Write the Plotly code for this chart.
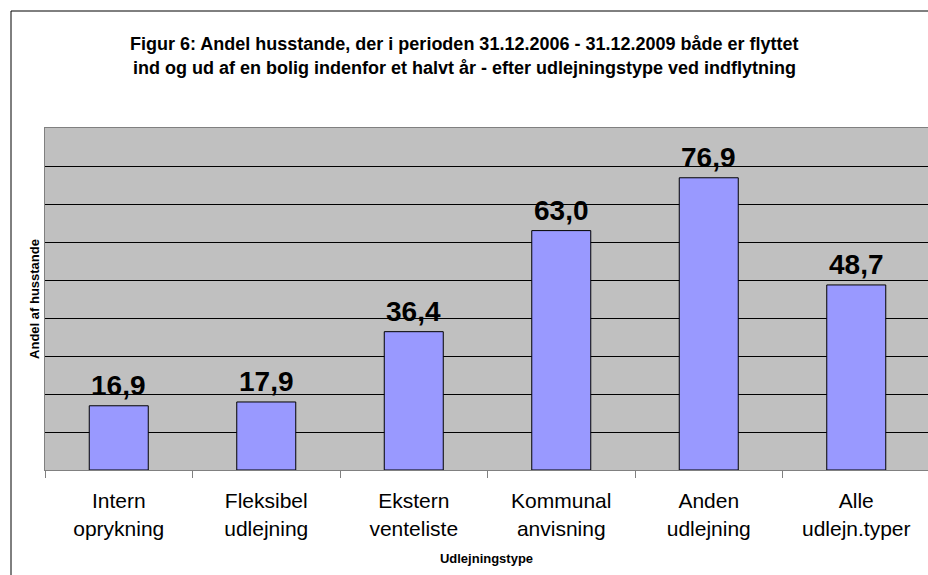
import plotly.graph_objects as go

# data
categories = [
    "Intern<br>oprykning",
    "Fleksibel<br>udlejning",
    "Ekstern<br>venteliste",
    "Kommunal<br>anvisning",
    "Anden<br>udlejning",
    "Alle<br>udlejn.typer",
]
shares = [16.9, 17.9, 36.4, 63.0, 76.9, 48.7]
title_lines = [
    "Figur 6: Andel husstande, der i perioden 31.12.2006 - 31.12.2009 både er flyttet",
    "ind og ud af en bolig indenfor et halvt år - efter udlejningstype ved indflytning",
]
x_title = "Udlejningstype"
y_title = "Andel af husstande"

W, H = 928, 575
M = dict(l=45, r=0, t=128, b=105)
plot_w = W - M["l"] - M["r"]
plot_h = H - M["t"] - M["b"]
FONT = "Arial, Liberation Sans, sans-serif"


def px_x(x):
    # screen pixel -> paper x
    return (x - M["l"]) / plot_w


def px_y(y):
    # screen pixel -> paper y
    return (H - M["b"] - y) / plot_h


fig = go.Figure()
fig.add_trace(
    go.Bar(
        x=categories,
        y=shares,
        width=0.4,
        marker=dict(color="#9999FF", line=dict(color="#000000", width=1)),
        hoverinfo="x+y",
    )
)

# value labels over the bars
for cat, val in zip(categories, shares):
    fig.add_annotation(
        x=cat, y=val, text="<b>" + f"{val:.1f}".replace(".", ",") + "</b>",
        showarrow=False, yanchor="bottom", yshift=3,
        font=dict(family=FONT, size=28, color="#000000"),
    )

# two-line title
for i, line in enumerate(title_lines):
    fig.add_annotation(
        xref="paper", yref="paper", x=px_x(464), y=px_y(44 + 24 * i),
        text=f"<b>{line}</b>", showarrow=False, xanchor="center", yanchor="middle",
        font=dict(family=FONT, size=18, color="#000000"),
    )

# outer chart frame (left and top edges visible)
fig.add_shape(
    type="rect", xref="paper", yref="paper",
    x0=px_x(11), x1=px_x(940), y0=px_y(590), y1=px_y(11),
    line=dict(color="#000000", width=1), layer="below",
)

fig.update_layout(
    width=W,
    height=H,
    margin=M,
    paper_bgcolor="#FFFFFF",
    plot_bgcolor="#C0C0C0",
    showlegend=False,
    font=dict(family=FONT, color="#000000"),
)
fig.update_xaxes(
    range=[-0.5, -0.5 + plot_w / 147.5],
    showline=True, linecolor="#808080", linewidth=1, mirror=True,
    ticks="outside", tickson="boundaries", ticklen=7, tickcolor="#808080",
    ticklabelstandoff=12,
    tickfont=dict(size=21, color="#000000"),
    showgrid=False,
    title=dict(text=f"<b>{x_title}</b>", font=dict(size=13), standoff=15),
)
fig.update_yaxes(
    range=[0, 90], dtick=10,
    showgrid=True, gridcolor="#000000", gridwidth=1,
    zeroline=False, showticklabels=False,
    showline=True, linecolor="#808080", linewidth=1,
    title=dict(text=f"<b>{y_title}</b>", font=dict(size=13), standoff=1),
)

# drop the default page margin so the figure fills the window
fig.write_html(
    "out.html",
    config={"displayModeBar": False},
    post_script="document.body.style.margin='0';document.body.style.overflow='hidden';",
)
